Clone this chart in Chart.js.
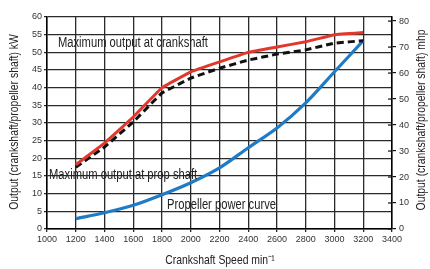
<!DOCTYPE html>
<html>
<head>
<meta charset="utf-8">
<script src="https://cdn.jsdelivr.net/npm/chart.js@4.4.1/dist/chart.umd.min.js"></script>
<style>
  html, body { margin: 0; padding: 0; background: #fff; }
  #wrap { width: 430px; height: 269px; position: relative; }
</style>
</head>
<body>
<div id="wrap"><canvas id="myChart"></canvas></div>
<script>
const FONT = '"Liberation Sans", Arial, sans-serif';
const NARROW = 0.8; // the reference uses a condensed face, so squeeze text sideways

// chart values
const speeds = [1200, 1400, 1600, 1800, 2000, 2200, 2400, 2600, 2800, 3000, 3200];
const crankshaftKw = [18.2, 24.3, 31.7, 40.0, 44.5, 47.3, 50.0, 51.5, 53.0, 55.0, 55.6];
const propShaftKw = [17.5, 23.2, 30.3, 38.5, 42.7, 45.5, 47.8, 49.5, 50.7, 52.6, 53.3];
const propellerKw = [2.9, 4.6, 6.7, 9.7, 13.1, 17.3, 23.0, 28.6, 35.7, 44.5, 53.3];

const KW_TO_MHP = 1.35962;

// text labels on the plot, placed in data units
const notes = [
    { text: 'Maximum output at crankshaft', x: 1076, y: 52.6 },
    { text: 'Maximum output at prop shaft', x: 1014, y: 15.3 },
    { text: 'Propeller power curve', x: 1835, y: 6.8 },
];

function pts(ys) {
    return speeds.map((s, i) => ({ x: s, y: ys[i] }));
}

function narrowText(ctx, text, x, y, rot, align) {
    ctx.save();
    ctx.translate(x, y);
    if (rot) ctx.rotate(rot);
    ctx.scale(NARROW, 1);
    ctx.textAlign = align;
    ctx.fillText(text, 0, 0);
    ctx.restore();
}

// draws the axis titles, the notes and the inner half of the right ticks
const extras = {
    id: 'extras',
    afterDraw(chart) {
        const ctx = chart.ctx;
        const xs = chart.scales.x, ys = chart.scales.y, y2 = chart.scales.y2;
        ctx.save();
        ctx.fillStyle = '#222';
        ctx.textBaseline = 'middle';
        ctx.font = '14px ' + FONT;
        notes.forEach(n => {
            narrowText(ctx, n.text, xs.getPixelForValue(n.x), ys.getPixelForValue(n.y), 0, 'left');
        });

        ctx.font = '13px ' + FONT;
        narrowText(ctx, 'Crankshaft Speed min\u207B\u00B9', 220, 260, 0, 'center');
        narrowText(ctx, 'Output (crankshaft/propeller shaft) kW', 14, 122, -Math.PI / 2, 'center');
        narrowText(ctx, 'Output (crankshaft/propeller shaft) mhp', 421, 120, -Math.PI / 2, 'center');

        ctx.strokeStyle = '#111';
        ctx.lineWidth = 1.2;
        y2.ticks.forEach(t => {
            const py = y2.getPixelForValue(t.value);
            ctx.beginPath();
            ctx.moveTo(y2.left - 4, py);
            ctx.lineTo(y2.left, py);
            ctx.stroke();
        });
        ctx.restore();
    }
};

const tickFont = { size: 9, family: FONT };

const myChart = new Chart(document.getElementById('myChart'), {
    type: 'line',
    data: {
        datasets: [
            {
                label: 'Maximum output at crankshaft',
                data: pts(crankshaftKw),
                borderColor: '#e0392b',
                borderWidth: 3,
                pointRadius: 0,
                tension: 0.05,
            },
            {
                label: 'Maximum output at prop shaft',
                data: pts(propShaftKw),
                borderColor: '#111',
                borderWidth: 3,
                borderDash: [7, 4],
                pointRadius: 0,
                tension: 0.05,
            },
            {
                label: 'Propeller power curve',
                data: pts(propellerKw),
                borderColor: '#1f7bc6',
                borderWidth: 3.2,
                pointRadius: 0,
                tension: 0.3,
            }
        ]
    },
    options: {
        responsive: true,
        maintainAspectRatio: false,
        animation: false,
        events: [],
        layout: { padding: { top: 17, left: 0, right: 0, bottom: 0 } },
        plugins: { legend: { display: false }, tooltip: { enabled: false } },
        scales: {
            x: {
                type: 'linear',
                min: 1000,
                max: 3400,
                ticks: { stepSize: 200, color: '#333', font: tickFont, padding: 2, maxRotation: 0, format: { useGrouping: false } },
                grid: { color: '#2a2a2a', lineWidth: 1.3, tickLength: 3 },
                border: { color: '#000', width: 1.5 },
                afterFit(scale) { scale.height = 40; }
            },
            y: {
                min: 0,
                max: 60,
                ticks: { stepSize: 5, color: '#333', font: tickFont, padding: 2 },
                grid: { color: '#2a2a2a', lineWidth: 1.3, tickLength: 3 },
                border: { color: '#000', width: 1.5 },
                afterFit(scale) { scale.width = 47; }
            },
            y2: {
                position: 'right',
                min: 0,
                max: 60 * KW_TO_MHP,
                ticks: { stepSize: 10, includeBounds: false, color: '#333', font: tickFont, padding: 3 },
                grid: { drawOnChartArea: false, color: '#111', lineWidth: 1.2, tickLength: 4 },
                border: { color: '#000', width: 1.5 },
                afterFit(scale) { scale.width = 38; }
            }
        }
    },
    plugins: [extras]
});
</script>
</body>
</html>
